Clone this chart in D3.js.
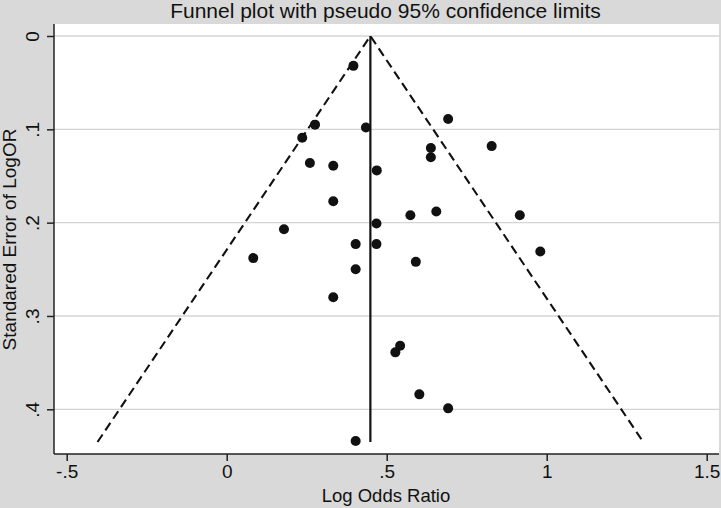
<!DOCTYPE html>
<html>
<head>
<meta charset="utf-8">
<script src="https://cdn.jsdelivr.net/npm/d3@7"></script>
<style>
  html, body { margin: 0; padding: 0; background: #d9d9d9; }
  svg text { font-family: "Liberation Sans", Arial, sans-serif; fill: #111; }
</style>
</head>
<body>
<div id="chart"></div>
<script>
// study estimates
var logOR = [0.396, 0.276, 0.236, 0.435, 0.692, 0.638, 0.638, 0.260, 0.333, 0.469,
             0.828, 0.333, 0.179, 0.083, 0.403, 0.468, 0.468, 0.403, 0.333, 0.574,
             0.655, 0.591, 0.916, 0.980, 0.542, 0.527, 0.602, 0.692, 0.403];
var seLogOR = [0.032, 0.095, 0.109, 0.098, 0.089, 0.120, 0.130, 0.136, 0.139, 0.144,
               0.118, 0.177, 0.207, 0.238, 0.223, 0.201, 0.223, 0.250, 0.280, 0.192,
               0.188, 0.242, 0.192, 0.231, 0.332, 0.339, 0.384, 0.399, 0.434];
var pooled = 0.449;
var seMax = 0.435;
var xTicks = [-0.5, 0, 0.5, 1, 1.5];
var xTickLabels = ["-.5", "0", ".5", "1", "1.5"];
var yTicks = [0, 0.1, 0.2, 0.3, 0.4];
var yTickLabels = ["0", ".1", ".2", ".3", ".4"];

var W = 721, H = 508;
var plot = {left: 54, top: 24, right: 719, bottom: 454};

var svg = d3.select("#chart").append("svg")
  .attr("width", W).attr("height", H);

svg.append("rect").attr("width", W).attr("height", H).attr("fill", "#d9d9d9");

var x = d3.scaleLinear().domain([-0.5, 1.5]).range([66.7, 706.7]);
var y = d3.scaleLinear().domain([0, 0.4]).range([36, 409.3]);

// plot region
svg.append("rect")
  .attr("x", plot.left).attr("y", plot.top)
  .attr("width", plot.right - plot.left).attr("height", plot.bottom - plot.top)
  .attr("fill", "#fff");

// grid
svg.selectAll("line.grid")
  .data(yTicks)
  .enter().append("line")
  .attr("class", "grid")
  .attr("x1", plot.left).attr("x2", plot.right)
  .attr("y1", d => y(d)).attr("y2", d => y(d))
  .attr("stroke", "#d4d4d4").attr("stroke-width", 1.3);

// funnel (pseudo 95% limits)
var funnel = [[pooled - 1.96 * seMax, seMax], [pooled, 0], [pooled + 1.96 * seMax, seMax]];
svg.append("path")
  .attr("d", d3.line().x(d => x(d[0])).y(d => y(d[1]))(funnel))
  .attr("fill", "none").attr("stroke", "#111")
  .attr("stroke-width", 2.1).attr("stroke-dasharray", "9,5");

svg.append("line")
  .attr("x1", x(pooled)).attr("x2", x(pooled))
  .attr("y1", y(0)).attr("y2", y(seMax))
  .attr("stroke", "#111").attr("stroke-width", 2.2);

// points
svg.selectAll("circle.pt")
  .data(logOR)
  .enter().append("circle")
  .attr("class", "pt")
  .attr("cx", d => x(d))
  .attr("cy", (d, i) => y(seLogOR[i]))
  .attr("r", 5)
  .attr("fill", "#111");

// axes
var yAxis = d3.axisLeft(y).tickValues(yTicks).tickFormat((d, i) => yTickLabels[i]).tickSize(7).tickPadding(6);
var gy = svg.append("g").attr("transform", "translate(" + plot.left + ",0)").call(yAxis);
gy.select(".domain").attr("d", "M0," + plot.top + "V" + plot.bottom).attr("stroke", "#222").attr("stroke-width", 1.5);
gy.selectAll(".tick line").attr("stroke", "#222").attr("stroke-width", 1.5);
gy.selectAll(".tick text")
  .attr("font-size", 19)
  .attr("text-anchor", "middle")
  .attr("x", 0).attr("dy", 0)
  .attr("transform", "translate(-22,0) rotate(-90)")
  .attr("dominant-baseline", "central");

var xAxis = d3.axisBottom(x).tickValues(xTicks).tickFormat((d, i) => xTickLabels[i]).tickSize(7).tickPadding(4);
var gx = svg.append("g").attr("transform", "translate(0," + plot.bottom + ")").call(xAxis);
gx.select(".domain").attr("d", "M" + plot.left + ",0H" + plot.right).attr("stroke", "#222").attr("stroke-width", 1.5);
gx.selectAll(".tick line").attr("stroke", "#222").attr("stroke-width", 1.5);
gx.selectAll(".tick text").attr("font-size", 19);

// titles
svg.append("text")
  .attr("x", 385.5).attr("y", 18)
  .attr("text-anchor", "middle").attr("font-size", 21)
  .text("Funnel plot with pseudo 95% confidence limits");

svg.append("text")
  .attr("x", 386).attr("y", 502)
  .attr("text-anchor", "middle").attr("font-size", 18.5)
  .text("Log Odds Ratio");

svg.append("text")
  .attr("transform", "translate(16,239.5) rotate(-90)")
  .attr("text-anchor", "middle").attr("font-size", 19)
  .text("Standared Error of LogOR");
</script>
</body>
</html>
